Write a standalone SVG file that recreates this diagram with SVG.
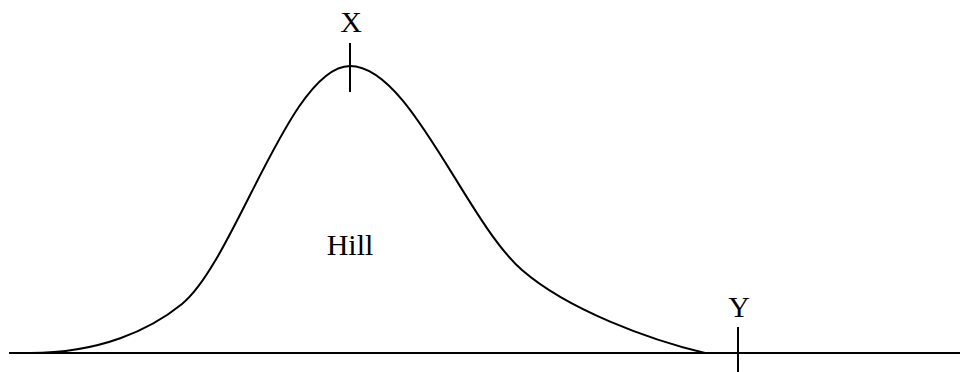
<svg xmlns="http://www.w3.org/2000/svg" width="970" height="372" viewBox="0 0 970 372">
<style>
.l{fill:none;stroke:#000;stroke-width:2}
.t{font-family:"Liberation Serif",serif;font-size:30px;fill:#000;text-anchor:middle}
</style>
<rect width="970" height="372" fill="#fff"/>
<g id="ground"><line class="l" x1="9" y1="353" x2="960" y2="353"/></g>
<g id="hill">
<path class="l" d="M30,353 C100,353 150,330 182,304 C235,261 290,66 350,66 C410,66 465,220 522,270 C568,310 650,340 705,353"/>
<text class="t" x="350" y="255">Hill</text>
</g>
<g id="X"><line class="l" x1="350" y1="43" x2="350" y2="92"/><text class="t" x="351" y="32">X</text></g>
<g id="Y"><line class="l" x1="738" y1="327" x2="738" y2="372"/><text class="t" x="739" y="317">Y</text></g>
</svg>
